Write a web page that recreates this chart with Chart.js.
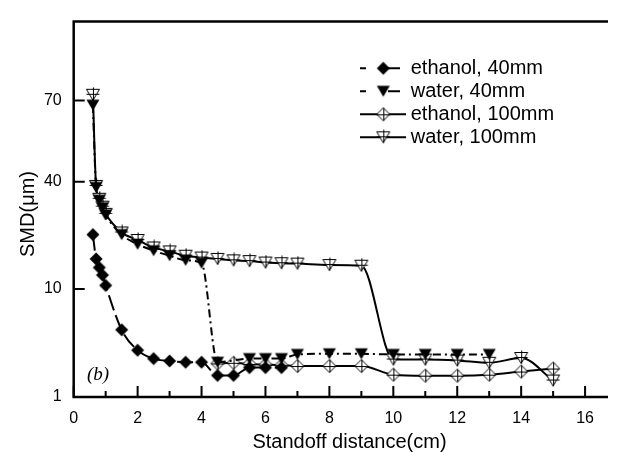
<!DOCTYPE html>
<html><head><meta charset="utf-8">
<script src="https://cdn.jsdelivr.net/npm/chart.js@4/dist/chart.umd.min.js"></script>
<style>html,body{margin:0;padding:0;background:#fff;} #wrap{width:617px;height:452px;position:relative;}</style>
</head><body><div id="wrap"><canvas id="c"></canvas></div>
<script>
// ---------------- data ----------------
const seriesLabels = ['ethanol, 40mm', 'water, 40mm', 'ethanol, 100mm', 'water, 100mm'];

const xEthanol40 = [0.6, 0.7, 0.8, 0.9, 1.0, 1.5, 2.0, 2.5, 3.0, 3.5, 4.0, 4.5, 5.0, 5.5, 6.0, 6.5];
const yEthanol40 = [25.2, 18.4, 16.0, 13.9, 11.0, 6.6, 4.9, 4.2, 4.0, 3.9, 3.9, 2.8, 2.8, 3.45, 3.45, 3.45];

const xWater40 = [0.6, 0.7, 0.8, 0.9, 1.0, 1.5, 2.0, 2.5, 3.0, 3.5, 4.0, 4.5, 5.5, 6.0, 6.5, 7, 8, 9, 10, 11, 12, 13];
const yWater40 = [68.3, 38.4, 34.8, 32.7, 30.7, 25.2, 22.5, 20.7, 19.3, 18.0, 17.2, 3.9, 4.2, 4.2, 4.2, 4.55, 4.6, 4.6, 4.55, 4.55, 4.55, 4.55];

const xEthanol100 = [4.5, 5, 5.5, 6, 6.5, 7, 8, 9, 10, 11, 12, 13, 14, 15];
const yEthanol100 = [3.8, 3.85, 3.75, 3.7, 3.65, 3.58, 3.58, 3.58, 2.86, 2.78, 2.78, 2.86, 3.12, 3.37];

const xWater100 = [0.6, 0.7, 0.8, 0.9, 1.0, 1.5, 2, 2.5, 3, 3.5, 4, 4.5, 5, 5.5, 6, 6.5, 7, 8, 9, 10, 11, 12, 13, 14, 15];
const yWater100 = [72.2, 38.8, 35.2, 33.0, 31.0, 25.8, 23.7, 21.6, 20.5, 19.3, 18.8, 18.4, 18.0, 17.8, 17.4, 17.2, 17.1, 16.7, 16.5, 4.12, 4.12, 4.04, 3.85, 4.25, 2.37];

const xTickValues = [0,1,2,3,4,5,6,7,8,9,10,11,12,13,14,15,16];
const yTickValues = [1, 10, 40, 70];

// ---------------- custom (piecewise) y scale as in the original figure ----------------
const Y_STOPS = [[1, 0], [10, 0.2877], [40, 0.5737], [70, 0.7897], [100, 1.0]];
class PiecewiseScale extends Chart.Scale {
  determineDataLimits() { this.min = Y_STOPS[0][0]; this.max = Y_STOPS[Y_STOPS.length - 1][0]; }
  buildTicks() { return yTickValues.map(v => ({ value: v })); }
  getLabelForValue(v) { return String(v); }
  _dec(v) {
    for (let i = 1; i < Y_STOPS.length; i++) {
      if (v <= Y_STOPS[i][0] || i === Y_STOPS.length - 1) {
        const [v0, d0] = Y_STOPS[i - 1], [v1, d1] = Y_STOPS[i];
        return d0 + (v - v0) / (v1 - v0) * (d1 - d0);
      }
    }
  }
  getPixelForValue(v) { return this.getPixelForDecimal(this._dec(v)); }
  getValueForPixel(p) {
    const d = this.getDecimalForPixel(p);
    for (let i = 1; i < Y_STOPS.length; i++) {
      if (d <= Y_STOPS[i][1] || i === Y_STOPS.length - 1) {
        const [v0, d0] = Y_STOPS[i - 1], [v1, d1] = Y_STOPS[i];
        return v0 + (d - d0) / (d1 - d0) * (v1 - v0);
      }
    }
  }
}
PiecewiseScale.id = 'piecewise';
PiecewiseScale.defaults = {};
Chart.register(PiecewiseScale);

// ---------------- markers ----------------
function makeMarker(kind) {
  const c = document.createElement('canvas');
  c.width = 16; c.height = 16;
  const g = c.getContext('2d');
  const cx = 8, cy = 8;
  g.lineWidth = 1; g.strokeStyle = '#000'; g.fillStyle = '#000';
  g.beginPath();
  if (kind === 'diamond' || kind === 'odiamond') {
    g.moveTo(cx, cy - 6.5); g.lineTo(cx + 6.5, cy); g.lineTo(cx, cy + 6.5); g.lineTo(cx - 6.5, cy); g.closePath();
  } else {
    g.moveTo(cx - 6.5, cy - 5.5); g.lineTo(cx + 6.5, cy - 5.5); g.lineTo(cx, cy + 5.5); g.closePath();
  }
  if (kind === 'diamond' || kind === 'tri') { g.fill(); }
  else {
    g.fillStyle = '#fff'; g.fill(); g.stroke();
    g.beginPath();
    if (kind === 'odiamond') {
      g.moveTo(cx + 0.5, cy - 6.5); g.lineTo(cx + 0.5, cy + 6.5);
      g.moveTo(cx - 6.5, cy + 0.5); g.lineTo(cx + 6.5, cy + 0.5);
    } else {
      g.moveTo(cx + 0.5, cy - 7.5); g.lineTo(cx + 0.5, cy + 5.5);
      g.moveTo(cx - 6.5, cy - 0.5); g.lineTo(cx + 6.5, cy - 0.5);
    }
    g.stroke();
  }
  return c;
}
const markers = [makeMarker('diamond'), makeMarker('tri'), makeMarker('odiamond'), makeMarker('otri')];
const dashes = [[16, 5], [8, 4, 2, 4], [], []];

function pts(xs, ys) { return xs.map((x, i) => ({ x: x, y: ys[i] })); }
const allX = [xEthanol40, xWater40, xEthanol100, xWater100];
const allY = [yEthanol40, yWater40, yEthanol100, yWater100];

const datasets = seriesLabels.map((lab, i) => ({
  label: lab,
  data: pts(allX[i], allY[i]),
  borderColor: '#000',
  backgroundColor: '#000',
  borderWidth: 2,
  borderDash: dashes[i],
  pointStyle: markers[i],
  pointRadius: 7,
  cubicInterpolationMode: 'monotone',
  clip: false
}));

const FONT = '"Liberation Sans", Arial, sans-serif';

// ---------------- frame, ticks, titles, legend ----------------
const decorPlugin = {
  id: 'decor',
  afterDraw(chart) {
    const { ctx, chartArea: a, scales: { x, y } } = chart;
    ctx.save();
    ctx.strokeStyle = '#000';
    ctx.lineWidth = 2.5;
    ctx.beginPath();
    ctx.moveTo(a.left, a.top); ctx.lineTo(a.right, a.top);
    ctx.moveTo(a.left, a.top - 1.25); ctx.lineTo(a.left, a.bottom + 1.25);
    ctx.moveTo(a.left, a.bottom); ctx.lineTo(a.right, a.bottom);
    ctx.stroke();
    ctx.lineWidth = 2;
    ctx.beginPath();
    x.ticks.forEach(t => {
      const px = x.getPixelForValue(t.value);
      const len = t.value % 2 === 0 ? 11 : 6;
      ctx.moveTo(px, a.bottom); ctx.lineTo(px, a.bottom - len);
    });
    y.ticks.forEach(t => {
      const py = y.getPixelForValue(t.value);
      ctx.moveTo(a.left, py); ctx.lineTo(a.left + 11, py);
    });
    ctx.stroke();

    // axis titles
    ctx.fillStyle = '#000';
    ctx.font = '20px ' + FONT;
    ctx.textAlign = 'center'; ctx.textBaseline = 'middle';
    ctx.fillText('Standoff distance(cm)', 349.5, 442);
    ctx.save();
    ctx.translate(28, 214); ctx.rotate(-Math.PI / 2);
    ctx.font = '20px ' + FONT;
    ctx.fillText('SMD(\u03bcm)', 0, 0);
    ctx.restore();

    // panel label
    ctx.font = 'italic 19px "Liberation Serif", "Times New Roman", serif';
    ctx.textAlign = 'left';
    ctx.fillText('(b)', 87, 375);

    // legend
    chart.data.datasets.forEach((ds, i) => {
      const ly = 68.3 + i * 23;
      ctx.lineWidth = 2;
      ctx.setLineDash([]);
      ctx.beginPath();
      if (ds.borderDash.length) {
        ctx.moveTo(360, ly); ctx.lineTo(366, ly);
        ctx.moveTo(388, ly); ctx.lineTo(400, ly);
      } else {
        ctx.moveTo(360, ly); ctx.lineTo(406, ly);
      }
      ctx.stroke();
      ctx.drawImage(ds.pointStyle, 383.3 - 8, ly - 8);
      ctx.font = '20px ' + FONT;
      ctx.textAlign = 'left'; ctx.textBaseline = 'middle';
      ctx.fillText(ds.label, 410.7, ly);
    });
    ctx.restore();
  }
};

new Chart(document.getElementById('c'), {
  type: 'line',
  data: { datasets: datasets },
  options: {
    responsive: true,
    maintainAspectRatio: false,
    animation: false,
    events: [],
    layout: { padding: { top: 9.5, right: 0, bottom: 0, left: 0 } },
    plugins: { legend: { display: false }, tooltip: { enabled: false } },
    scales: {
      x: {
        type: 'linear',
        min: 0,
        max: 16.717,
        afterBuildTicks: s => { s.ticks = xTickValues.map(v => ({ value: v })); },
        afterFit: s => { s.height = 55; },
        grid: { display: false, drawTicks: false },
        border: { display: false },
        ticks: {
          autoSkip: false, maxRotation: 0, padding: 12.4, color: '#000',
          font: { family: FONT, size: 16 },
          callback: v => (v % 2 === 0 ? String(v) : '')
        }
      },
      y: {
        type: 'piecewise',
        afterFit: s => { s.width = 73.7; },
        grid: { display: false, drawTicks: false },
        border: { display: false },
        ticks: { padding: 12, color: '#000', font: { family: FONT, size: 16 } }
      }
    }
  },
  plugins: [decorPlugin]
});
</script>
</body></html>
